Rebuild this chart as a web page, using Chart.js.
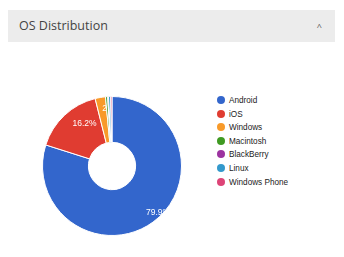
<!DOCTYPE html>
<html>
<head>
<meta charset="utf-8">
<script src="https://cdn.jsdelivr.net/npm/chart.js@4"></script>
<style>
  body { margin: 0; width: 344px; height: 257px; background: #fff; position: relative; overflow: hidden; font-family: "Open Sans", "Noto Sans", sans-serif; }
  .panel-head { position: absolute; left: 8px; top: 10px; width: 327px; height: 32px; background: #ececec; }
  .panel-head h3 { margin: 0; position: absolute; left: 11px; top: 7px; font-size: 12.5px; font-weight: normal; color: #444; }
  .panel-head .chev { position: absolute; right: 13px; top: 10px; font-size: 9px; color: #555; }
  #wrap { position: absolute; left: 42px; top: 96px; width: 140px; height: 140px; }
  #legend { position: absolute; left: 217px; top: 94px; font-family: Arial, "Liberation Sans", sans-serif; font-size: 8.2px; color: #222; }
  #legend div { height: 13.6px; line-height: 13.6px; white-space: nowrap; }
  #legend span { display: inline-block; width: 8px; height: 8px; border-radius: 50%; margin-right: 4px; vertical-align: -1px; }
</style>
</head>
<body>
<div class="panel-head"><h3>OS Distribution</h3><span class="chev">^</span></div>
<div id="wrap"><canvas id="pieChart"></canvas></div>
<div id="legend"></div>
<script>
const labels = ['Android', 'iOS', 'Windows', 'Macintosh', 'BlackBerry', 'Linux', 'Windows Phone'];
const shares = [79.9, 16.2, 2.4, 0.5, 0.2, 0.5, 0.3];
const colors = ['#3366cc', '#e03c31', '#f89a2a', '#3f9a22', '#9c33a0', '#3399cc', '#dd4477'];

document.getElementById('legend').innerHTML = labels.map((l, i) =>
    `<div><span style="background:${colors[i]}"></span>${l}</div>`
).join('');

// white percentage labels, clipped to their own slice like the original
const sliceLabels = {
    id: 'sliceLabels',
    afterDatasetsDraw(chart) {
        const ctx = chart.ctx;
        const total = shares.reduce((a, b) => a + b, 0);
        chart.getDatasetMeta(0).data.forEach((arc, i) => {
            const pct = shares[i] / total * 100;
            if (pct < 1) return;
            const p = arc.getProps(['x', 'y', 'startAngle', 'endAngle', 'innerRadius', 'outerRadius'], true);
            const mid = (p.startAngle + p.endAngle) / 2;
            const r = p.outerRadius * 0.83;
            ctx.save();
            ctx.beginPath();
            ctx.arc(p.x, p.y, p.outerRadius, p.startAngle, p.endAngle);
            ctx.arc(p.x, p.y, p.innerRadius, p.endAngle, p.startAngle, true);
            ctx.closePath();
            ctx.clip();
            ctx.fillStyle = '#fff';
            ctx.font = '8.5px Arial, "Liberation Sans", sans-serif';
            ctx.textAlign = 'left';
            ctx.textBaseline = 'middle';
            ctx.fillText(pct.toFixed(1) + '%', p.x + r * Math.cos(mid), p.y + r * Math.sin(mid));
            ctx.restore();
        });
    }
};

new Chart(document.getElementById('pieChart').getContext('2d'), {
    type: 'doughnut',
    data: {
        labels: labels,
        datasets: [{ data: shares, backgroundColor: colors, borderColor: '#fff', borderWidth: 1 }]
    },
    options: {
        responsive: true,
        maintainAspectRatio: false,
        animation: false,
        cutout: '34%',
        plugins: { legend: { display: false }, tooltip: { enabled: false } }
    },
    plugins: [sliceLabels]
});
</script>
</body>
</html>
